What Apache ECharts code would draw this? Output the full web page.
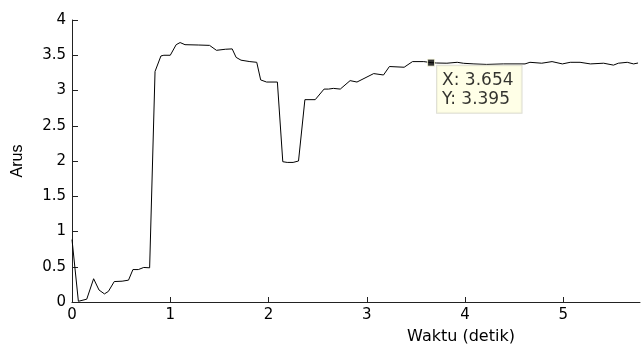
<!DOCTYPE html>
<html>
<head>
<meta charset="utf-8">
<script src="https://cdn.jsdelivr.net/npm/echarts@6/dist/echarts.min.js"></script>
<style>
html,body{margin:0;padding:0;background:#fff;}
#chart{width:642px;height:350px;}
</style>
</head>
<body>
<div id="chart"></div>
<script>
// Time (detik) and current (Arus)
var waktu = [0, 0.065, 0.15, 0.22, 0.275, 0.33, 0.37, 0.43, 0.51, 0.575, 0.62, 0.675, 0.73, 0.79,
  0.845, 0.905, 0.935, 1.00, 1.06, 1.10, 1.15, 1.29, 1.40, 1.47, 1.56, 1.63, 1.67, 1.72, 1.81, 1.88,
  1.92, 1.98, 2.09, 2.145, 2.19, 2.25, 2.305, 2.37, 2.475, 2.565, 2.61, 2.66, 2.73, 2.83, 2.90, 3.07,
  3.17, 3.23, 3.38, 3.465, 3.58, 3.654, 3.71, 3.815, 3.92, 3.985, 4.09, 4.22, 4.39, 4.61, 4.66, 4.78,
  4.885, 4.99, 5.07, 5.17, 5.275, 5.41, 5.51, 5.56, 5.65, 5.715, 5.76];
var arus = [0.886, 0.01, 0.04, 0.33, 0.17, 0.115, 0.15, 0.29, 0.295, 0.31, 0.46, 0.46, 0.49, 0.485,
  3.27, 3.49, 3.50, 3.50, 3.65, 3.68, 3.65, 3.645, 3.64, 3.57, 3.585, 3.59, 3.47, 3.43, 3.41, 3.40,
  3.15, 3.12, 3.12, 1.99, 1.98, 1.98, 2.00, 2.87, 2.87, 3.02, 3.02, 3.03, 3.02, 3.14, 3.12, 3.24,
  3.22, 3.34, 3.33, 3.41, 3.41, 3.395, 3.39, 3.387, 3.40, 3.386, 3.377, 3.37, 3.377, 3.377, 3.40, 3.387,
  3.41, 3.377, 3.40, 3.40, 3.377, 3.387, 3.36, 3.387, 3.40, 3.377, 3.39];
var xTicks = [0, 1, 2, 3, 4, 5];
var yTicks = [0, 0.5, 1, 1.5, 2, 2.5, 3, 3.5, 4];
var tipX = 3.654;
var tipY = 3.395;

var lineData = waktu.map(function (t, i) { return [t, arus[i]]; });

var chart = echarts.init(document.getElementById('chart'));
chart.setOption({
  animation: false,
  backgroundColor: '#ffffff',
  grid: { left: 72, right: 2, top: 20, bottom: 41 },
  xAxis: {
    type: 'value',
    min: 0,
    max: 5.78,
    interval: 1,
    name: 'Waktu (detik)',
    nameLocation: 'middle',
    nameGap: 27,
    nameTextStyle: { fontFamily: 'DejaVu Sans', fontSize: 16, color: '#000', padding: [0, 0, 0, 210] },
    axisLine: { onZero: false, lineStyle: { color: '#222', width: 1 } },
    axisTick: { inside: true, length: 5, customValues: xTicks, lineStyle: { color: '#222' } },
    axisLabel: { customValues: xTicks, margin: 6, fontFamily: 'DejaVu Sans', fontSize: 15, color: '#000' },
    splitLine: { show: false }
  },
  yAxis: {
    type: 'value',
    min: 0,
    max: 4,
    interval: 0.5,
    name: 'Arus',
    nameLocation: 'middle',
    nameGap: 46,
    nameTextStyle: { fontFamily: 'Liberation Sans', fontSize: 16, color: '#000' },
    axisLine: { show: true, lineStyle: { color: '#222', width: 1 } },
    axisTick: { inside: true, length: 6, customValues: yTicks, lineStyle: { color: '#222' } },
    axisLabel: { customValues: yTicks, margin: 6, fontFamily: 'DejaVu Sans', fontSize: 15, color: '#000' },
    splitLine: { show: false }
  },
  series: [
    {
      type: 'line',
      data: lineData,
      showSymbol: false,
      symbol: 'none',
      lineStyle: { color: '#000', width: 1 },
      silent: true
    },
    {
      type: 'scatter',
      data: [[tipX, tipY]],
      symbol: 'rect',
      symbolSize: 7,
      itemStyle: { color: '#000', borderColor: '#ffffe1', borderWidth: 1 },
      z: 5,
      label: {
        show: true,
        position: [10, 7],
        align: 'left',
        verticalAlign: 'top',
        formatter: 'X: ' + tipX.toFixed(3) + '\nY: ' + tipY.toFixed(3),
        fontFamily: 'DejaVu Sans',
        fontSize: 17,
        lineHeight: 19,
        color: '#000',
        backgroundColor: '#ffffe1',
        borderColor: '#d4d4c8',
        borderWidth: 1,
        padding: [5, 8, 4, 5]
      }
    }
  ]
});
</script>
</body>
</html>
